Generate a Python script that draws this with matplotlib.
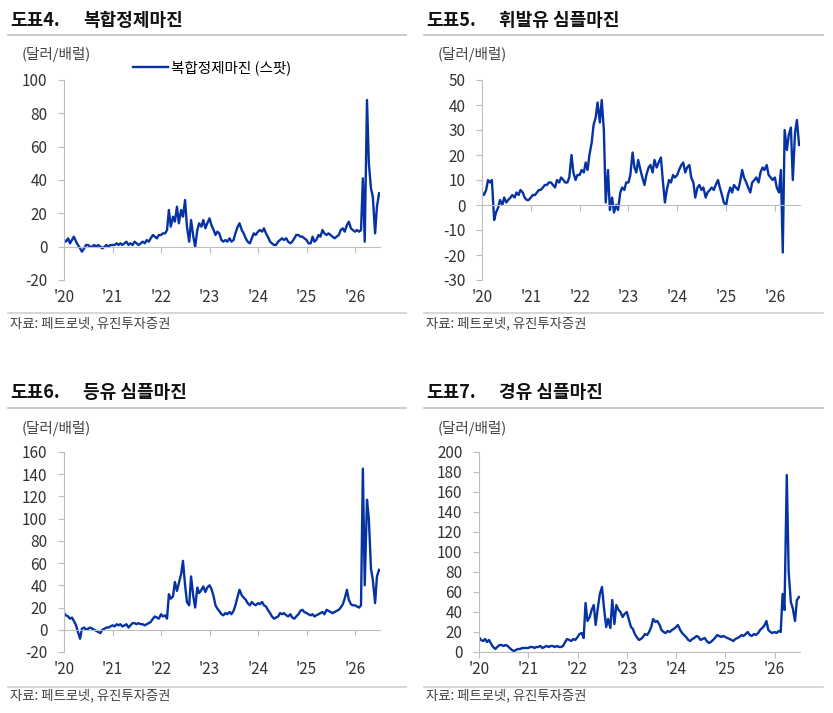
import numpy as np
import pandas as pd
import matplotlib
matplotlib.use('Agg')
import matplotlib.pyplot as plt
from matplotlib.lines import Line2D

plt.rcParams['font.family'] = ['Noto Sans CJK KR', 'DejaVu Sans']

# semi-monthly sampling, Jan 2020 - Jul 2026
dates = pd.date_range('2020-01-01', '2026-07-01', freq='SMS')

complex_margin = [
    4, 3, 5, 2, 4, 6, 3, 1, -1, -3, -1, 1, 1, 0, 0, 1, 0, 1, 0, -1, 0, 1, 0, 1,
    1, 1, 2, 1, 2, 1, 2, 3, 1, 2, 1, 3, 2, 1, 2, 3, 2, 4, 3, 5, 7, 6, 5, 7,
    7, 8, 8, 10, 22, 12, 18, 15, 24, 14, 22, 18, 28, 12, 3, 16, 6, 0, 10, 14, 12, 16, 11, 14,
    17, 13, 10, 7, 9, 8, 4, 3, 4, 3, 5, 3, 4, 8, 12, 14, 10, 8, 5, 3, 2, 5, 8, 7,
    9, 10, 9, 11, 8, 6, 3, 2, 1, 1, 3, 4, 5, 4, 5, 3, 2, 3, 5, 7, 7, 6, 6, 5,
    4, 2, 2, 6, 3, 4, 7, 6, 10, 8, 7, 8, 7, 6, 5, 6, 7, 10, 11, 9, 13, 15, 11, 10,
    9, 10, 9, 10, 41, 3, 88, 50, 35, 30, 8, 24, 32,
]
gasoline = [
    5, 4, 6, 10, 9, 10, -6, -3, -1, 2, 0, 3, 1, 2, 3, 4, 3, 5, 4, 6, 5, 3, 2, 2,
    3, 4, 4, 5, 6, 6, 7, 8, 8, 9, 9, 8, 7, 10, 9, 11, 10, 9, 9, 11, 20, 13, 10, 12,
    12, 14, 13, 17, 14, 20, 25, 32, 35, 41, 33, 42, 30, 1, 14, -2, 3, -3, 0, -2, 5, 7, 6, 9,
    9, 12, 21, 15, 13, 18, 14, 11, 8, 12, 15, 16, 13, 18, 15, 17, 19, 10, 1, 6, 10, 9, 12, 11,
    12, 14, 16, 17, 13, 15, 16, 11, 9, 3, 7, 8, 6, 7, 3, 5, 6, 7, 6, 8, 10, 7, 4, 1,
    0, 4, 7, 5, 8, 7, 6, 9, 14, 11, 9, 7, 5, 9, 10, 11, 9, 13, 15, 14, 16, 12, 11, 10,
    11, 7, 5, 14, -19, 30, 22, 28, 31, 10, 29, 34, 24,
]
kerosene = [
    15, 13, 12, 10, 11, 8, 4, -2, -8, 1, 2, 0, 1, 2, 1, 0, -1, -2, -3, 0, 1, 2, 2, 3,
    4, 3, 5, 4, 5, 3, 4, 5, 2, 4, 6, 6, 5, 6, 5, 5, 4, 5, 6, 7, 10, 12, 11, 10,
    14, 12, 13, 10, 32, 28, 30, 43, 35, 42, 50, 62, 40, 25, 22, 48, 30, 20, 38, 33, 36, 39, 34, 38,
    40, 37, 30, 22, 19, 17, 14, 13, 15, 14, 16, 14, 17, 22, 30, 36, 31, 29, 27, 24, 22, 25, 23, 22,
    24, 23, 25, 22, 21, 18, 15, 12, 10, 11, 12, 15, 14, 15, 13, 12, 14, 11, 10, 12, 14, 17, 18, 16,
    15, 14, 13, 14, 12, 13, 14, 15, 16, 14, 18, 17, 16, 15, 16, 17, 18, 20, 23, 28, 36, 27, 23, 22,
    22, 21, 20, 22, 145, 40, 117, 100, 55, 45, 24, 48, 54,
]
diesel = [
    15, 12, 11, 13, 10, 12, 8, 5, 3, 5, 7, 7, 6, 7, 6, 4, 2, 1, 2, 3, 3, 4, 4, 4,
    4, 5, 5, 4, 5, 5, 6, 4, 5, 6, 5, 6, 6, 5, 6, 5, 5, 6, 10, 13, 12, 11, 13, 12,
    15, 18, 19, 14, 49, 31, 35, 42, 47, 27, 45, 58, 65, 45, 25, 33, 24, 52, 28, 47, 42, 40, 35, 38,
    40, 33, 25, 23, 18, 15, 12, 13, 15, 18, 17, 20, 25, 33, 30, 31, 27, 22, 20, 19, 21, 20, 22, 23,
    25, 27, 22, 19, 17, 15, 12, 11, 13, 14, 16, 15, 12, 13, 14, 11, 9, 10, 12, 14, 17, 16, 15, 16,
    15, 14, 13, 12, 11, 13, 14, 15, 17, 16, 18, 20, 17, 16, 18, 17, 19, 22, 24, 26, 31, 22, 20, 19,
    20, 19, 21, 20, 58, 42, 177, 80, 50, 44, 31, 52, 55,
]

years = [2020, 2021, 2022, 2023, 2024, 2025, 2026]
year_labels = ["'20", "'21", "'22", "'23", "'24", "'25", "'26"]

panels = [
    # number, title, series, yticks, (left, width, top, bottom) in px
    ('도표4.', '복합정제마진', complex_margin, np.arange(-20, 101, 20), (64, 316, 80, 280)),
    ('도표5.', '휘발유 심플마진', gasoline, np.arange(-30, 51, 10), (482, 318, 80, 280)),
    ('도표6.', '등유 심플마진', kerosene, np.arange(-20, 161, 20), (64, 316, 452, 652)),
    ('도표7.', '경유 심플마진', diesel, np.arange(0, 201, 20), (479, 321, 452, 652)),
]

W, H = 833, 713
BLUE = '#0633A3'
GRID = '#bdbdbd'
TXT = '#333333'

fig = plt.figure(figsize=(W / 100, H / 100), dpi=100)


def fx(px):
    return px / W


def fy(py):
    return 1 - py / H


for k, (num, title, vals, yt, (l, w, t, b)) in enumerate(panels):
    col = k % 2
    x0 = 8 if col == 0 else 424
    x1 = 406 if col == 0 else 823
    ty = 21 if k < 2 else 393
    sep = 35 if k < 2 else 408
    unit_y = 55 if k < 2 else 428
    src_line = 313 if k < 2 else 687
    src_y = 323 if k < 2 else 695

    # headers
    fig.text(fx(x0 + 2), fy(ty), num, fontsize=13, fontweight='bold', va='center', color='#111111')
    fig.text(fx(x0 + 75), fy(ty), title, fontsize=13, fontweight='bold', va='center', color='#111111')
    fig.add_artist(Line2D([fx(x0), fx(x1)], [fy(sep), fy(sep)], color='#c8c8c8', lw=1.3))
    fig.text(fx(x0 + 14), fy(unit_y), '(달러/배럴)', fontsize=10.5, va='center', color='#444444')
    fig.add_artist(Line2D([fx(x0), fx(x1)], [fy(src_line), fy(src_line)], color='#d0d0d0', lw=1.2))
    fig.text(fx(x0 + 2), fy(src_y), '자료: 페트로넷, 유진투자증권', fontsize=9.6, va='center', color='#444444')

    ax = fig.add_axes([fx(l), fy(b), w / W, (b - t) / H])
    ax.plot(dates, vals, color=BLUE, lw=1.7, label=title + ' (스팟)')
    ax.set_xlim(pd.Timestamp('2020-01-01'), pd.Timestamp('2026-07-08'))
    ax.set_ylim(yt[0], yt[-1])
    ax.set_yticks(yt)
    ax.set_yticklabels([str(v) for v in yt])

    for s in ['top', 'right']:
        ax.spines[s].set_visible(False)
    ax.spines['left'].set_color(GRID)
    ax.spines['bottom'].set_color(GRID)
    ax.spines['bottom'].set_position(('data', 0))

    xt = [pd.Timestamp(f'{y}-01-01') for y in years]
    ax.set_xticks(xt)
    ax.tick_params(axis='x', length=4, color=GRID, labelbottom=False)
    ax.tick_params(axis='y', length=4, color=GRID, pad=8, labelsize=11, labelcolor=TXT)
    for d, lab in zip(xt, year_labels):
        ax.text(d, -0.088, lab, transform=ax.get_xaxis_transform(), ha='center', va='center',
                fontsize=11, color=TXT)

    if k == 0:
        ax.legend(loc='upper left', bbox_to_anchor=(0.2, 1.13), frameon=False, fontsize=10.5,
                  handlelength=2.4, handletextpad=0.2, borderaxespad=0)

fig.savefig('out.png', dpi=100)
